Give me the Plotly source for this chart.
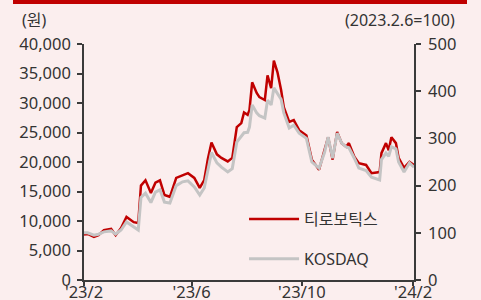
import plotly.graph_objects as go

dates = [
    "2023-02-06", "2023-02-10", "2023-02-17", "2023-02-22", "2023-02-28",
    "2023-03-08", "2023-03-13", "2023-03-19", "2023-03-25", "2023-04-02",
    "2023-04-07", "2023-04-10", "2023-04-15", "2023-04-21", "2023-04-26",
    "2023-05-01", "2023-05-06", "2023-05-12", "2023-05-19", "2023-05-26",
    "2023-06-01", "2023-06-08", "2023-06-14", "2023-06-19", "2023-06-23",
    "2023-06-27", "2023-07-03", "2023-07-08", "2023-07-15", "2023-07-20",
    "2023-07-25", "2023-07-30", "2023-08-02", "2023-08-06", "2023-08-08",
    "2023-08-11", "2023-08-16", "2023-08-19", "2023-08-25", "2023-08-28",
    "2023-09-01", "2023-09-04", "2023-09-08", "2023-09-12", "2023-09-15",
    "2023-09-21", "2023-09-26", "2023-10-02", "2023-10-10", "2023-10-16",
    "2023-10-24", "2023-10-30", "2023-11-03", "2023-11-08", "2023-11-13",
    "2023-11-18", "2023-11-23", "2023-11-26", "2023-12-02", "2023-12-07",
    "2023-12-15", "2023-12-21", "2023-12-30", "2024-01-01", "2024-01-06",
    "2024-01-09", "2024-01-12", "2024-01-17", "2024-01-20", "2024-01-26",
    "2024-02-01", "2024-02-06",
]

price_won = [
    7700, 7800, 7300, 7600, 8450,
    8650, 7600, 8800, 10700, 9800,
    9650, 16000, 16900, 14750, 16500,
    16900, 14400, 14100, 17300, 17800,
    18100, 17300, 15600, 16950, 20500,
    23300, 21300, 20700, 20100, 20700,
    25900, 26600, 28400, 28000, 28800,
    33500, 31700, 31000, 30500, 34700,
    32500, 37200, 35200, 32200, 29300,
    26800, 27100, 25400, 24500, 20400,
    18700, 22000, 24200, 20400, 25100,
    23200, 22600, 23200, 20900, 19800,
    19500, 18100, 18300, 21500, 23200,
    22000, 24200, 23200, 20700, 19000,
    20000, 19500,
]

kosdaq_rel = [
    100, 100, 95, 97, 102,
    104, 97, 106, 123, 112,
    106, 175, 184, 164, 186,
    191, 165, 163, 200, 208,
    210, 197, 180, 195, 232,
    270, 248, 239, 229, 236,
    292, 305, 312, 313, 324,
    371, 354, 348, 343, 381,
    371, 407, 395, 383, 354,
    322, 328, 311, 300, 250,
    237, 270, 303, 258, 311,
    290, 282, 280, 258, 237,
    232, 218, 212, 255, 269,
    262, 282, 278, 250, 229,
    248, 239,
]

tick_dates = ["2023-02-06", "2023-06-05", "2023-10-05", "2024-02-05"]
tick_labels = ["'23/2", "'23/6", "'23/10", "'24/2"]

BG = "#fbeeee"
AX = "#3a3a3a"
FONT = "Noto Sans, Open Sans, Noto Sans CJK KR, sans-serif"

fig = go.Figure()
fig.add_trace(go.Scatter(
    x=dates, y=price_won, mode="lines", name="티로보틱스",
    line=dict(color="#c00000", width=2.5), yaxis="y", legendgroup="a",
))
fig.add_trace(go.Scatter(
    x=dates, y=kosdaq_rel, mode="lines", name="KOSDAQ",
    line=dict(color="#c4c4c4", width=3), yaxis="y2", legendgroup="b",
))

axis_common = dict(
    showgrid=False, zeroline=False, showline=True, linecolor=AX, linewidth=1.5,
    ticks="outside", tickcolor=AX, tickwidth=1.5, automargin=False,
    tickfont=dict(family=FONT, size=16.5, color="#333333"),
)

fig.update_layout(
    width=481, height=300,
    margin=dict(l=84, r=67, t=44, b=20),
    paper_bgcolor=BG, plot_bgcolor=BG,
    font=dict(family=FONT, size=16, color="#333333"),
    xaxis=dict(
        type="date", range=["2023-02-06", "2024-02-06"],
        tickvals=tick_dates, ticktext=tick_labels, ticklen=4,
        ticklabelstandoff=-8,
        **axis_common,
    ),
    yaxis=dict(range=[0, 40000], dtick=5000, tickformat=",", ticklen=5,
               ticklabelstandoff=3, **axis_common),
    yaxis2=dict(range=[0, 500], dtick=100, overlaying="y", side="right", ticklen=5,
                ticklabelstandoff=4, **axis_common),
    legend=dict(
        x=0.485, y=0.33, xanchor="left", yanchor="top",
        bgcolor="rgba(0,0,0,0)", font=dict(family=FONT, size=16, color="#333333"),
        tracegroupgap=16, itemwidth=50,
    ),
    showlegend=True,
    shapes=[dict(
        type="rect", xref="paper", yref="paper",
        x0=(13 - 84) / 330, x1=(467 - 84) / 330,
        y0=(280 - 4) / 236, y1=(280 - 0) / 236,
        fillcolor="#c00000", line=dict(width=0),
    )],
    annotations=[
        dict(text="(원)", xref="paper", yref="paper", x=(34 - 84) / 330, y=(280 - 20) / 236,
             xanchor="center", yanchor="middle", showarrow=False,
             font=dict(family=FONT, size=16, color="#333333")),
        dict(text="(2023.2.6=100)", xref="paper", yref="paper", x=(457 - 84) / 330,
             y=(280 - 20) / 236, xanchor="right", yanchor="middle", showarrow=False,
             font=dict(family=FONT, size=16, color="#333333")),
    ],
)

fig.write_html(
    "out.html",
    config={"displayModeBar": False},
    post_script="document.body.style.margin='0';document.body.style.background='#fbeeee';",
)
